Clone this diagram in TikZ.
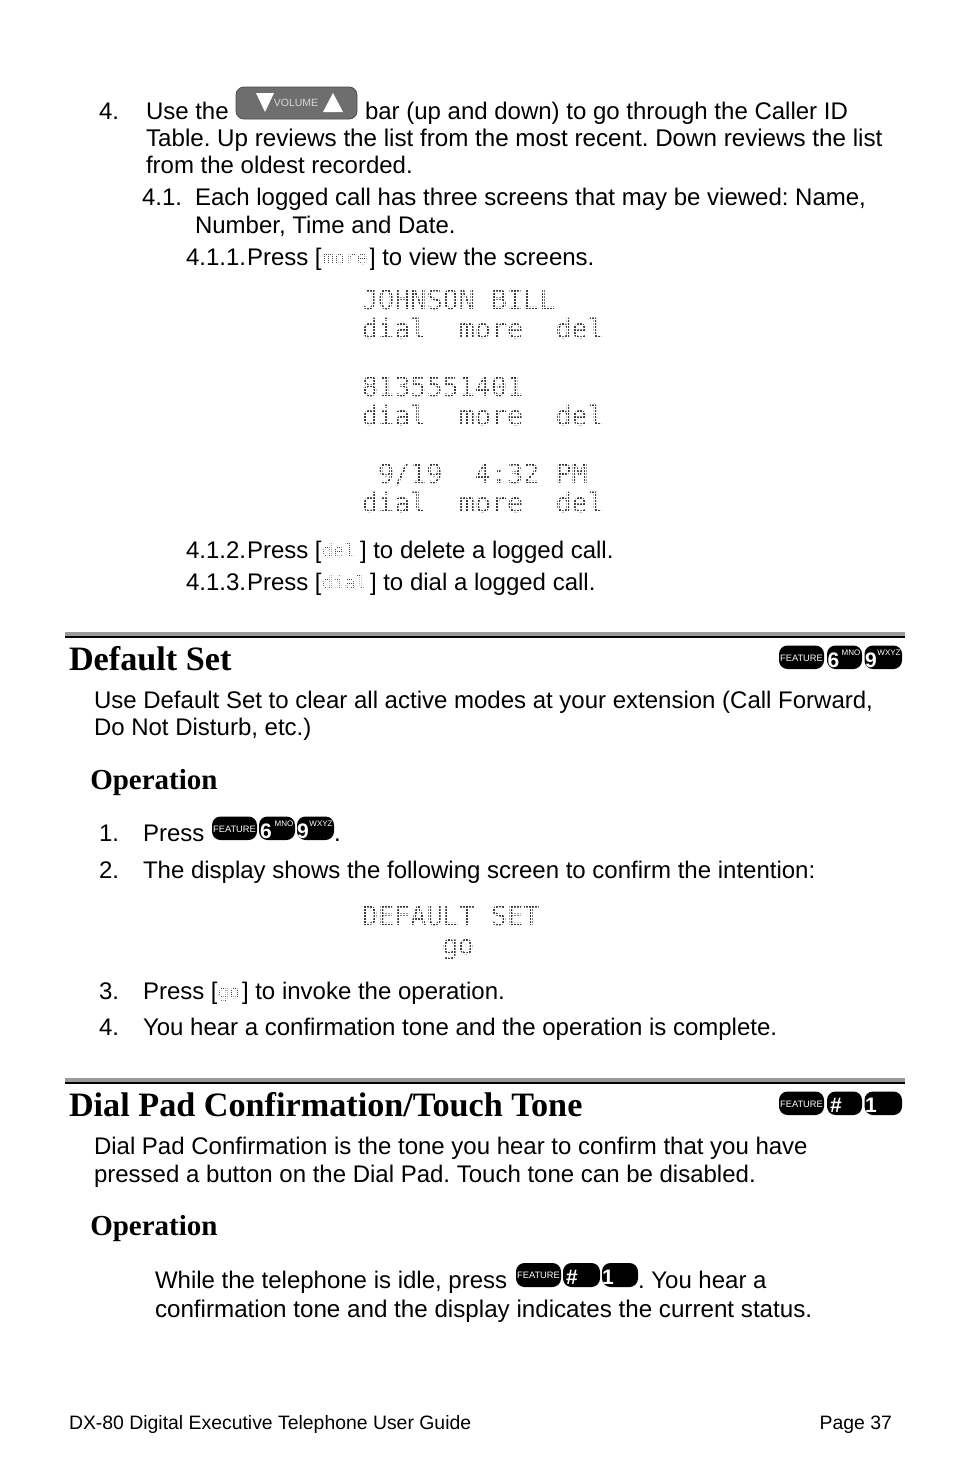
\documentclass[tikz,border=0pt]{standalone}
\usepackage{fontspec}
\setmainfont{Liberation Sans}
\newfontfamily\titlefont{Liberation Serif}
\newfontfamily\lcdfont{DejaVu Sans Mono}
\frenchspacing
\definecolor{lcdgray}{HTML}{3A3A3A}
\definecolor{lcdlight}{HTML}{404040}
\definecolor{rulegray}{HTML}{9A9A9A}
\definecolor{volgray}{HTML}{6E6E6E}
\newcommand{\bodyfs}{\fontsize{24}{24}\selectfont}
\newcommand{\bodywide}{\fontsize{24.18}{24.18}\selectfont}
\newcommand{\lcdbig}{\lcdfont\fontsize{26.8}{26.8}\selectfont}
\newcommand{\lcdsmall}{\lcdfont\fontsize{18.6}{18.6}\selectfont}
\tikzset{
  x=1pt,y=-1pt,
  body/.style={anchor=base west,inner sep=0pt,outer sep=0pt,yshift=0.7pt,font=\bodyfs,text=black},
  bodyw/.style={body,font=\bodywide},
  h1/.style={anchor=base west,inner sep=0pt,outer sep=0pt,yshift=0.8pt,font=\titlefont\bfseries\fontsize{34.2}{34.2}\selectfont},
  h2/.style={anchor=base west,inner sep=0pt,outer sep=0pt,xshift=-0.7pt,yshift=0.8pt,font=\titlefont\bfseries\fontsize{29}{29}\selectfont},
  lcd/.style={anchor=base west,inner sep=0pt,outer sep=0pt,font=\lcdbig,text=lcdgray},
  lcdin/.style={anchor=base west,inner sep=0pt,outer sep=0pt,font=\lcdsmall,text=lcdlight},
  foot/.style={anchor=base west,inner sep=0pt,outer sep=0pt,yshift=0.7pt,font=\fontsize{19.4}{19.4}\selectfont},
  keycap/.style={fill=black,rounded corners=8.5pt,draw=none},
  keysmall/.style={inner sep=0pt,text=white,font=\fontsize{9.3}{9.3}\selectfont},
  keytiny/.style={inner sep=0pt,text=white,font=\fontsize{8}{8}\selectfont},
  keybig/.style={inner sep=0pt,text=white,font=\bfseries\fontsize{21}{21}\selectfont},
  rulelight/.style={fill=rulegray,draw=none},
  ruledark/.style={fill=black,draw=none},
  lcdmask/.style={draw=white,line width=0.85pt},
  lcdmaskin/.style={draw=white,line width=0.35pt},
}
\begin{document}
\begin{tikzpicture}
\useasboundingbox[fill=white] (0,0) rectangle (954,1475);
% --- list at top
\node[body] (n4) at (99,120) {4.};
\node[body] (t1a) at (146,120) {Use the};
\fill[volgray,rounded corners=8pt,draw=black!70,line width=0.8pt] (236,87) rectangle (357,119);
\fill[white] (256,93) -- (274,93) -- (265,112) -- cycle;
\fill[white] (323,112) -- (343,112) -- (333,93) -- cycle;
\node[inner sep=0pt,text=white!85!black,font=\fontsize{10.5}{10.5}\selectfont] (vol) at (296,103) {VOLUME};
\node[body] (t1b) at (365,120) {bar (up and down) to go through the Caller ID};
\node[bodyw] (t2) at (146,147) {Table. Up reviews the list from the most recent. Down reviews the list};
\node[body] (t3) at (146,174) {from the oldest recorded.};
\node[body] (n41) at (142,206) {4.1.};
\node[body] (t4) at (195,206) {Each logged call has three screens that may be viewed: Name,};
\node[body] (t5) at (195,234) {Number, Time and Date.};
\node[body] (n411) at (186,266) {4.1.1.};
\node[body] (t6a) at (247,266) {Press [};
\node[lcdin] (i1) at (323,264) {more};
\node[body] (t6b) at (369,266) {] to view the screens.};
% --- LCD screens
\node[lcd] (s1) at (362,309) {JOHNSON BILL};
\node[lcd] (s2) at (362,338) {dial~~more~~del};
\node[lcd] (s3) at (362,396) {8135551401};
\node[lcd] (s4) at (362,425) {dial~~more~~del};
\node[lcd] (s5) at (378,483) {9/19~~4:32 PM};
\node[lcd] (s6) at (362,512) {dial~~more~~del};
\node[body] (n412) at (186,559) {4.1.2.};
\node[body] (t7a) at (247,559) {Press [};
\node[lcdin] (i2) at (322,557) {del};
\node[body] (t7b) at (360,559) {] to delete a logged call.};
\node[body] (n413) at (186,591) {4.1.3.};
\node[body] (t8a) at (247,591) {Press [};
\node[lcdin] (i3) at (322,589) {dial};
\node[body] (t8b) at (370,591) {] to dial a logged call.};
% --- Default Set
\fill[rulelight] (65,631.5) rectangle (905,635.5);
\fill[ruledark] (65,635.5) rectangle (905,638);
\node[h1] (h1a) at (69,671) {Default Set};
\fill[keycap] (779,645.5) rectangle (824,669);
\node[keysmall] (k1) at (801.5,658) {FEATURE};
\fill[keycap] (827,645.5) rectangle (862,669);
\node[keybig] (k2) at (833.5,660) {6};
\node[keytiny] (k2b) at (851,653) {MNO};
\fill[keycap] (864.5,645.5) rectangle (902,669);
\node[keybig] (k3) at (871,660) {9};
\node[keytiny] (k3b) at (889,653) {WXYZ};
\node[body] (d1) at (94,709) {Use Default Set to clear all active modes at your extension (Call Forward,};
\node[body] (d2) at (94,736) {Do Not Disturb, etc.)};
\node[h2] (op1) at (91,790) {Operation};
\node[body] (d3n) at (99,842) {1.};
\node[body] (d3) at (143,842) {Press};
\fill[keycap] (212,816.5) rectangle (257,840);
\node[keysmall] (k4) at (234.5,829) {FEATURE};
\fill[keycap] (259,816.5) rectangle (295,840);
\node[keybig] (k5) at (266,831) {6};
\node[keytiny] (k5b) at (284,824) {MNO};
\fill[keycap] (297,816.5) rectangle (334,840);
\node[keybig] (k6) at (303,831) {9};
\node[keytiny] (k6b) at (321,824) {WXYZ};
\node[body] (d3b) at (334,842) {.};
\node[body] (d4n) at (99,879) {2.};
\node[body] (d4) at (143,879) {The display shows the following screen to confirm the intention:};
\node[lcd] (s7) at (362,925) {DEFAULT SET};
\node[lcd] (s8) at (442,954) {go};
\node[body] (d5n) at (99,1000) {3.};
\node[body] (d5a) at (143,1000) {Press [};
\node[lcdin] (i4) at (218,998) {go};
\node[body] (d5b) at (242,1000) {] to invoke the operation.};
\node[body] (d6n) at (99,1036) {4.};
\node[body] (d6) at (143,1036) {You hear a confirmation tone and the operation is complete.};
% --- LCD dot texture
\foreach \yy in {286,289,...,520} \draw[lcdmask] (358,\yy) -- (606,\yy);
\foreach \yy in {902,905,...,960} \draw[lcdmask] (358,\yy) -- (540,\yy);
\foreach \xx in {360,363,...,606} \draw[lcdmask] (\xx,285) -- (\xx,520);
\foreach \xx in {360,363,...,540} \draw[lcdmask] (\xx,902) -- (\xx,960);
\foreach \yy in {249,251,...,270} \draw[lcdmaskin] (322,\yy) -- (369,\yy);
\foreach \xx in {323,325,...,369} \draw[lcdmaskin] (\xx,248) -- (\xx,270);
\foreach \yy in {542,544,...,563} \draw[lcdmaskin] (321,\yy) -- (358,\yy);
\foreach \xx in {322,324,...,358} \draw[lcdmaskin] (\xx,541) -- (\xx,563);
\foreach \yy in {574,576,...,595} \draw[lcdmaskin] (321,\yy) -- (368,\yy);
\foreach \xx in {322,324,...,368} \draw[lcdmaskin] (\xx,573) -- (\xx,595);
\foreach \yy in {983,985,...,1004} \draw[lcdmaskin] (217,\yy) -- (241,\yy);
\foreach \xx in {218,220,...,241} \draw[lcdmaskin] (\xx,982) -- (\xx,1004);
% --- Dial Pad
\fill[rulelight] (65,1078) rectangle (905,1081.5);
\fill[ruledark] (65,1081.5) rectangle (905,1084);
\node[h1] (h1b) at (69,1117) {Dial Pad Confirmation/Touch Tone};
\fill[keycap] (779,1091.5) rectangle (824,1115);
\node[keysmall] (k7) at (801.5,1104) {FEATURE};
\fill[keycap] (827,1091.5) rectangle (862,1115);
\node[keybig] (k8) at (836,1105) {\#};
\fill[keycap] (864.5,1091.5) rectangle (902,1115);
\node[keybig] (k9) at (871,1105) {1};
\node[body] (e1) at (94,1155) {Dial Pad Confirmation is the tone you hear to confirm that you have};
\node[body] (e2) at (94,1183) {pressed a button on the Dial Pad. Touch tone can be disabled.};
\node[h2] (op2) at (91,1236) {Operation};
\node[body] (e3a) at (155,1289) {While the telephone is idle, press};
\fill[keycap] (516,1263) rectangle (561,1287);
\node[keysmall] (k10) at (538.5,1275.5) {FEATURE};
\fill[keycap] (563,1263) rectangle (600,1287);
\node[keybig] (k11) at (572,1277) {\#};
\fill[keycap] (602,1263) rectangle (638,1287);
\node[keybig] (k12) at (608,1277) {1};
\node[body] (e3b) at (638,1289) {. You hear a};
\node[bodyw] (e4) at (155,1318) {confirmation tone and the display indicates the current status.};
% --- Footer
\node[foot] (f1) at (69,1430) {DX-80 Digital Executive Telephone User Guide};
\node[foot,anchor=base east] (f2) at (892,1430) {Page 37};
\end{tikzpicture}
\end{document}
